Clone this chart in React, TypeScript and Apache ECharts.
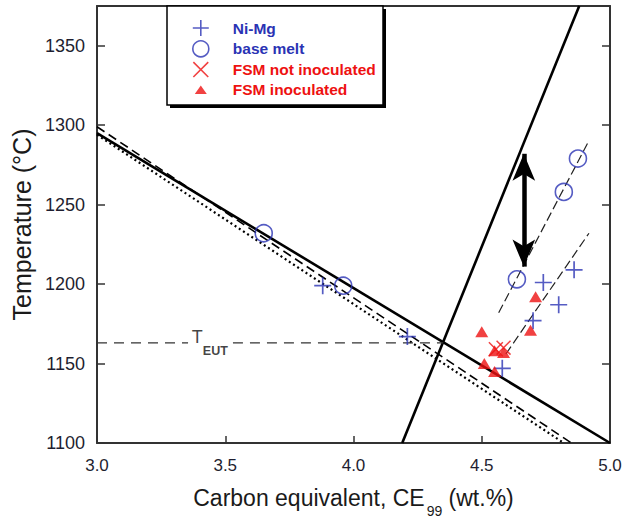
import React, { useEffect, useRef } from "react";
import * as echarts from "echarts";

// ---- data ----
const niMg: number[][] = [
  [3.88, 1199], [4.21, 1167], [4.58, 1147], [4.70, 1177], [4.80, 1187], [4.74, 1201], [4.86, 1209],
];
const baseMelt: number[][] = [
  [3.65, 1232], [3.96, 1199], [4.637, 1203], [4.82, 1258], [4.875, 1279],
];
const fsmNotInoc: number[][] = [
  [4.555, 1159], [4.585, 1160],
];
const fsmInoc: number[][] = [
  [4.50, 1170], [4.69, 1171], [4.71, 1192], [4.55, 1158], [4.585, 1157], [4.51, 1150], [4.55, 1145],
];
const liquidusSolid: number[][] = [[3.0, 1295], [5.0, 1100]];
const liquidusDashed: number[][] = [[3.0, 1299], [4.85, 1100]];
const liquidusDotted: number[][] = [[3.0, 1294], [4.82, 1100]];
const graphiteLiquidus: number[][] = [[4.19, 1100], [4.88, 1375]];
const eutLeft: number[][] = [[3.0, 1163], [3.355, 1163]];
const eutRight: number[][] = [[3.53, 1163], [4.35, 1163]];
const eutLabelPos: number[][] = [[3.44, 1163]];
const baseMeltTrend: number[][] = [[4.566, 1182], [4.914, 1289]];
const niMgTrend: number[][] = [[4.594, 1156], [4.918, 1232]];
const arrowEnds: number[][] = [[4.664, 1282], [4.664, 1211]];
const xTicks = { min: 3.0, max: 5.0, interval: 0.5 };
const yTicks = { min: 1100, max: 1375, interval: 50 };

const BLUE = "#2a33b4";
const RED = "#ee1111";
const FONT = "Liberation Sans, Arial, sans-serif";
const PLUS = "path://M0,9H20V11H0Z M9,0H11V20H9Z";
const CROSS = "path://M0,1.4L1.4,0L20,18.6L18.6,20Z M1.4,20L0,18.6L18.6,0L20,1.4Z";
const TRI_LEGEND = "path://M0,0L0.01,0 M16,16L16.01,16 M8,4L14,12.5L2,12.5Z";

export default function App() {
  const ref = useRef<HTMLDivElement>(null);
  useEffect(() => {
    if (!ref.current) return;
    const chart = echarts.init(ref.current, null, { renderer: "svg" });
    const lineBase = (name: string, data: number[][], width: number, type: any, color = "#000") => ({
      name,
      type: "line",
      data,
      symbol: "none",
      silent: true,
      lineStyle: { color, width, type },
      z: 2,
    });
    const legendText = (color: string) => ({ color, fontFamily: FONT, fontSize: 15.5, fontWeight: "bold" });
    chart.setOption({
      animation: false,
      backgroundColor: "#fff",
      grid: { left: 97, right: 13, top: 6, bottom: 79, containLabel: false, outerBoundsMode: "none" },
      xAxis: [
        {
          type: "value",
          min: xTicks.min,
          max: xTicks.max,
          interval: xTicks.interval,
          position: "bottom",
          name: "Carbon equivalent, CE{s|99} (wt.%)",
          nameLocation: "middle",
          nameGap: 41,
          nameTextStyle: {
            fontFamily: FONT,
            fontSize: 23,
            color: "#1a1a1a",
            lineHeight: 23,
            rich: {
              s: { fontSize: 14, fontFamily: FONT, color: "#1a1a1a", lineHeight: 12, padding: [25, 0, 0, 2] },
            },
          },
          axisLine: { show: true, lineStyle: { color: "#333", width: 2 } },
          axisTick: { show: true, inside: true, length: 7, lineStyle: { color: "#333", width: 1.5 } },
          axisLabel: {
            fontFamily: FONT,
            fontSize: 17,
            color: "#1e1e30",
            margin: 14,
            formatter: (v: number) => v.toFixed(1),
          },
          splitLine: { show: false },
        },
        {
          type: "value",
          min: xTicks.min,
          max: xTicks.max,
          position: "top",
          axisLine: { show: true, lineStyle: { color: "#333", width: 2 } },
          axisTick: { show: false },
          axisLabel: { show: false },
          splitLine: { show: false },
        },
      ],
      yAxis: [
        {
          type: "value",
          min: yTicks.min,
          max: yTicks.max,
          interval: yTicks.interval,
          position: "left",
          name: "Temperature (°C)",
          nameLocation: "middle",
          nameGap: 62,
          nameTextStyle: { fontFamily: FONT, fontSize: 25, color: "#1a1a1a" },
          axisLine: { show: true, lineStyle: { color: "#333", width: 2 } },
          axisTick: { show: true, inside: true, length: 8, lineStyle: { color: "#333", width: 1.5 } },
          axisLabel: {
            fontFamily: FONT,
            fontSize: 18,
            color: "#1e1e30",
            margin: 12,
            showMaxLabel: false,
            formatter: (v: number) => (v % 50 === 0 ? String(v) : ""),
          },
          splitLine: { show: false },
        },
        {
          type: "value",
          min: yTicks.min,
          max: yTicks.max,
          interval: yTicks.interval,
          position: "right",
          axisLine: { show: true, lineStyle: { color: "#333", width: 2 } },
          axisTick: { show: true, inside: true, length: 8, lineStyle: { color: "#333", width: 1.5 } },
          axisLabel: { show: false },
          splitLine: { show: false },
        },
      ],
      legend: {
        orient: "vertical",
        left: 192,
        top: 20,
        padding: 0,
        itemWidth: 54,
        itemHeight: 16,
        itemGap: 4,
        selectedMode: false,
        z: 10,
        textStyle: legendText(BLUE),
        data: [
          { name: "Ni-Mg", icon: PLUS, itemStyle: { color: BLUE }, textStyle: legendText(BLUE) },
          {
            name: "base melt",
            icon: "circle",
            itemStyle: { color: "transparent", borderColor: BLUE, borderWidth: 1.6 },
            textStyle: legendText(BLUE),
          },
          { name: "FSM not inoculated", icon: CROSS, itemStyle: { color: RED }, textStyle: legendText(RED) },
          { name: "FSM inoculated", icon: TRI_LEGEND, itemStyle: { color: RED }, textStyle: legendText(RED) },
        ],
      },
      graphic: [
        { type: "rect", z: 8, silent: true, shape: { x: 170, y: 9, width: 216, height: 99 }, style: { fill: "#000" } },
        {
          type: "rect",
          z: 9,
          silent: true,
          shape: { x: 167, y: 6, width: 216, height: 99 },
          style: { fill: "#fff", stroke: "#000", lineWidth: 1.5 },
        },
      ],
      series: [
        lineBase("liquidus", liquidusSolid, 2.6, "solid"),
        lineBase("liquidus dashed", liquidusDashed, 1.6, [9, 5]),
        lineBase("liquidus dotted", liquidusDotted, 2.2, [2, 3]),
        {
          ...lineBase("graphite liquidus", graphiteLiquidus, 2.6, "solid"),
          markLine: {
            silent: true,
            symbol: ["arrow", "arrow"],
            symbolSize: [17, 27],
            label: { show: false },
            lineStyle: { color: "#000", width: 4.5, type: "solid" },
            data: [[{ coord: arrowEnds[0] }, { coord: arrowEnds[1] }]],
          },
        },
        lineBase("T_EUT left", eutLeft, 1.3, [10, 7], "#333"),
        lineBase("T_EUT right", eutRight, 1.3, [10, 7], "#333"),
        lineBase("base melt trend", baseMeltTrend, 1.2, [9, 4], "#222"),
        lineBase("Ni-Mg trend", niMgTrend, 1.2, [9, 4], "#222"),
        {
          name: "T_EUT label",
          type: "scatter",
          data: eutLabelPos,
          symbolSize: 1,
          silent: true,
          itemStyle: { color: "transparent" },
          label: {
            show: true,
            position: "inside",
            offset: [0, -4],
            formatter: "{t|T}{s|EUT}",
            rich: {
              t: { fontFamily: FONT, fontSize: 18, color: "#111", lineHeight: 22, verticalAlign: "top" },
              s: {
                fontFamily: FONT,
                fontSize: 12.5,
                fontWeight: "bold",
                color: "#111",
                lineHeight: 12,
                verticalAlign: "bottom",
                padding: [0, 0, -8, 0],
              },
            },
          },
        },
        {
          name: "Ni-Mg",
          type: "scatter",
          data: niMg,
          symbol: PLUS,
          symbolSize: 17,
          itemStyle: { color: BLUE },
          z: 5,
        },
        {
          name: "base melt",
          type: "scatter",
          data: baseMelt,
          symbol: "circle",
          symbolSize: 17,
          itemStyle: { color: "transparent", borderColor: BLUE, borderWidth: 1.6 },
          z: 5,
        },
        {
          name: "FSM not inoculated",
          type: "scatter",
          data: fsmNotInoc,
          symbol: CROSS,
          symbolSize: 15,
          itemStyle: { color: RED },
          z: 5,
        },
        {
          name: "FSM inoculated",
          type: "scatter",
          data: fsmInoc,
          symbol: "triangle",
          symbolSize: [13, 11],
          itemStyle: { color: RED },
          z: 5,
        },
      ],
    });
    return () => chart.dispose();
  }, []);
  return (
    <div
      ref={ref}
      style={{ position: "fixed", left: 0, top: 0, width: 623, height: 522, background: "#fff" }}
    />
  );
}
